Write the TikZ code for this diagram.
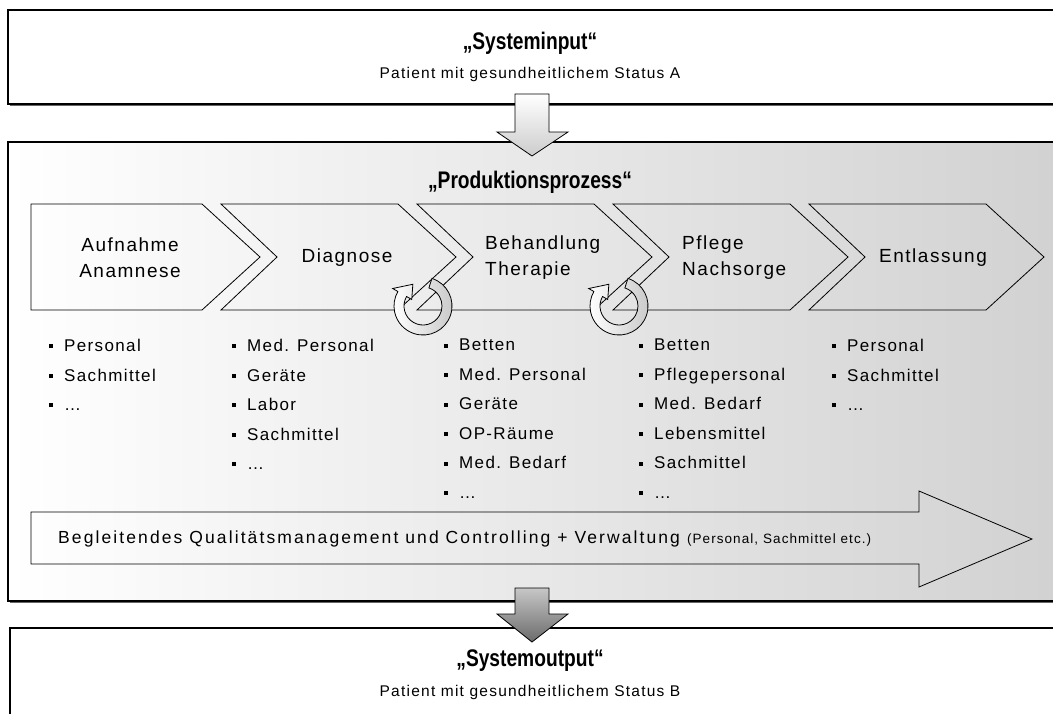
\documentclass[tikz,border=0pt]{standalone}
\usepackage{fontspec}
\setmainfont{Liberation Sans}
\newfontfamily\titlefont[FakeStretch=0.8]{Liberation Sans}
\newfontfamily\labelfont[LetterSpace=8]{Liberation Sans}
\newfontfamily\qmfont[LetterSpace=12]{Liberation Sans}
\newcommand\sqb{\rule[0.2em]{4pt}{4pt}\hspace{11pt}}

\begin{document}
\begin{tikzpicture}[x=1pt, y=-1pt, every node/.style={inner sep=0pt},
    frame/.style={draw, line width=1.3pt},
    boxshadow/.style={fill=black!60},
    chev/.style={draw, line width=0.8pt},
    blockarrow/.style={draw, line width=0.8pt},
    title/.style={font=\titlefont\bfseries\fontsize{24}{27}\selectfont},
    subtitle/.style={font=\labelfont\fontsize{15.5}{18}\selectfont},
    stage/.style={font=\labelfont\fontsize{19}{26}\selectfont, align=left},
    items/.style={font=\labelfont\fontsize{17}{29.5}\selectfont, align=left, anchor=north west}]
    \useasboundingbox (0,0) rectangle (1053,713);
    \clip (0,0) rectangle (1053,713);

    % Systeminput
    \fill[boxshadow] (10,12) rectangle (1070,106);
    \draw[frame, fill=white] (8,10) rectangle (1070,104);
    \node (inTitle) [title] at (530,43) {„Systeminput“};
    \node (inText) [subtitle] at (530,74) {Patient mit gesundheitlichem Status A};

    % Produktionsprozess
    \fill[boxshadow] (10,144) rectangle (1070,603);
    \draw[frame, left color=white, right color=black!18] (8,142) rectangle (1070,601);
    \draw[blockarrow, top color=white, bottom color=black!20] (515,94) -- (549,94) -- (549,132) -- (568,132) -- (532,156) -- (497,132) -- (515,132) -- cycle;
    \node (procTitle) [title] at (530,182) {„Produktionsprozess“};

    % Stages
    \draw[chev] (31,204) -- (202,204) -- (260,257) -- (202,310) -- (31,310) -- cycle;
    \draw[chev] (221,204) -- (398,204) -- (456,257) -- (398,310) -- (221,310) -- (277,257) -- cycle;
    \draw[chev] (417,204) -- (594,204) -- (652,257) -- (594,310) -- (417,310) -- (473,257) -- cycle;
    \draw[chev] (613,204) -- (790,204) -- (848,257) -- (790,310) -- (613,310) -- (669,257) -- cycle;
    \draw[chev] (809,204) -- (986,204) -- (1044,257) -- (986,310) -- (809,310) -- (865,257) -- cycle;
    \node (aufnahme) [stage, align=center] at (130,258) {Aufnahme\\Anamnese};
    \node (diagnose) [stage] at (347,258) {Diagnose};
    \node (behandlung) [stage, anchor=west] at (485,258) {Behandlung\\Therapie};
    \node (pflege) [stage, anchor=west] at (682,258) {Pflege\\Nachsorge};
    \node (entlassung) [stage] at (933,258) {Entlassung};

    % Loops
    \begin{scope}[shift={(423,306)}]
        \draw[line width=0.8pt, left color=white, right color=black!22] (-72:29) arc[start angle=-72, end angle=210, radius=29] -- (210:35) -- (245:24) -- (210:13) -- (210:19) arc[start angle=210, end angle=-72, radius=19] -- cycle;
    \end{scope}
    \begin{scope}[shift={(619,306)}]
        \draw[line width=0.8pt, left color=white, right color=black!22] (-72:29) arc[start angle=-72, end angle=210, radius=29] -- (210:35) -- (245:24) -- (210:13) -- (210:19) arc[start angle=210, end angle=-72, radius=19] -- cycle;
    \end{scope}

    % Resources
    \node (res1) [items] at (49,339) {\sqb Personal\\ \sqb Sachmittel\\ \sqb \dots};
    \node (res2) [items] at (232,339) {\sqb Med. Personal\\ \sqb Geräte\\ \sqb Labor\\ \sqb Sachmittel\\ \sqb \dots};
    \node (res3) [items] at (444,339) {\sqb Betten\\ \sqb Med. Personal\\ \sqb Geräte\\ \sqb OP-Räume\\ \sqb Med. Bedarf\\ \sqb \dots};
    \node (res4) [items] at (639,339) {\sqb Betten\\ \sqb Pflegepersonal\\ \sqb Med. Bedarf\\ \sqb Lebensmittel\\ \sqb Sachmittel\\ \sqb \dots};
    \node (res5) [items] at (832,339) {\sqb Personal\\ \sqb Sachmittel\\ \sqb \dots};

    % Qualitaetsmanagement
    \draw[blockarrow] (31,512) -- (919,512) -- (919,491) -- (1032,539) -- (919,587) -- (919,564) -- (31,564) -- cycle;
    \node (qm) [font=\qmfont\fontsize{17.5}{20}\selectfont, anchor=west] at (58,539) {Begleitendes Qualitätsmanagement und Controlling + Verwaltung {\labelfont\fontsize{13.5}{16}\selectfont (Personal, Sachmittel etc.)}};

    % Systemoutput
    \fill[boxshadow] (12,630) rectangle (1070,720);
    \draw[frame, fill=white] (10,628) rectangle (1070,730);
    \draw[blockarrow, top color=black!22, bottom color=black!58] (515,588) -- (549,588) -- (549,614) -- (568,614) -- (532,642) -- (497,614) -- (515,614) -- cycle;
    \node (outTitle) [title] at (530,661) {„Systemoutput“};
    \node (outText) [subtitle] at (530,692) {Patient mit gesundheitlichem Status B};
\end{tikzpicture}
\end{document}
